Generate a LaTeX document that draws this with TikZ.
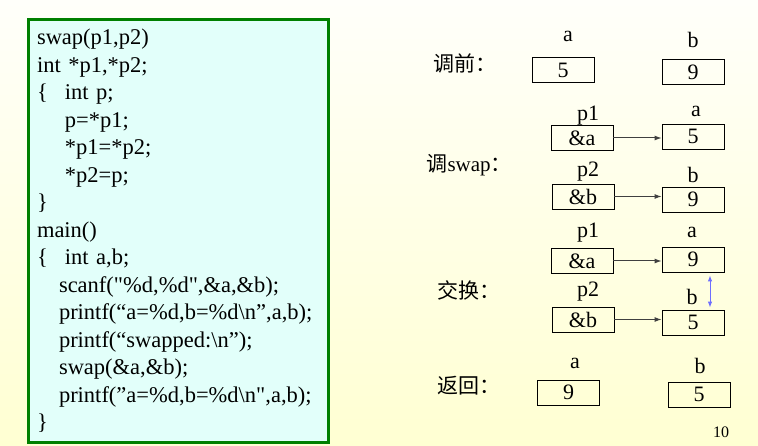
\documentclass[tikz,border=0pt]{standalone}
\usepackage{fontspec}
\setmainfont{Liberation Serif}[Ligatures=TeXOff]
\newfontfamily\cjk{Noto Sans CJK SC}
\usetikzlibrary{arrows.meta}
\definecolor{codegreen}{RGB}{0,128,0}
\definecolor{codefill}{RGB}{226,255,250}
\definecolor{bgtop}{RGB}{255,255,250}
\definecolor{bgbottom}{RGB}{255,255,210}
\definecolor{ptrgray}{RGB}{64,64,64}
\definecolor{swapblue}{RGB}{110,110,255}

\begin{document}
\begin{tikzpicture}[x=1pt, y=-1pt,
  codebox/.style={draw=codegreen, line width=3pt, fill=codefill, anchor=north west,
                  minimum width=300pt, minimum height=422pt, text width=282pt,
                  inner xsep=9pt, align=left, font=\fontsize{22.5}{27.5}\selectfont},
  cell/.style={draw, line width=0.8pt, minimum width=62pt, minimum height=25pt,
               inner sep=0pt, font=\fontsize{22}{24}\selectfont},
  var/.style={font=\fontsize{22}{24}\selectfont},
  stagelabel/.style={anchor=west, font=\fontsize{21}{24}\selectfont},
  ptr/.style={-{Latex[length=7pt,width=5pt]}, ptrgray, line width=1pt},
  swaparrow/.style={{Latex[length=6pt,width=4.5pt]}-{Latex[length=6pt,width=4.5pt]},
                    swapblue, line width=1pt}
]
  % Background
  \fill[top color=bgtop, bottom color=bgbottom] (0,0) rectangle (758,446);

  % Code
  \node[codebox] (code) at (26.5,18.5)
    {swap(p1,p2)\\
     int *p1,*p2;\\
     \makebox[28pt][l]{\{}int p;\\
     \hspace*{28pt}p=*p1;\\
     \hspace*{28pt}*p1=*p2;\\
     \hspace*{28pt}*p2=p;\\
     \}\\
     main()\\
     \makebox[28pt][l]{\{}int a,b;\\
     \hspace*{22pt}scanf("\%d,\%d",\&a,\&b);\\
     \hspace*{22pt}printf(“a=\%d,b=\%d\textbackslash n”,a,b);\\
     \hspace*{22pt}printf(“swapped:\textbackslash n”);\\
     \hspace*{22pt}swap(\&a,\&b);\\
     \hspace*{22pt}printf(”a=\%d,b=\%d\textbackslash n",a,b);\\
     \}};

  % Before the call
  \node[stagelabel] (before) at (430,63) {\cjk 调前：};
  \node[var] (a0name) at (568,36) {a};
  \node[var] (b0name) at (693,40) {b};
  \node[cell] (a0) at (563,70) {5};
  \node[cell] (b0) at (693,72) {9};

  % Calling swap
  \node[stagelabel] (call) at (423,165) {\cjk 调\rmfamily swap\cjk ：};
  \node[var] (p1name) at (588,116) {p1};
  \node[var] (a1name) at (696,111) {a};
  \node[cell] (p1a) at (582,138) {\&a};
  \node[cell] (a1) at (693,136.5) {5};
  \node[var] (p2name) at (588,172) {p2};
  \node[var] (b1name) at (693,175) {b};
  \node[cell] (p2b) at (583,196.5) {\&b};
  \node[cell] (b1) at (693,199.5) {9};

  % Swapped
  \node[stagelabel] (swapped) at (434,290) {\cjk 交换：};
  \node[var] (p1name2) at (588,233) {p1};
  \node[var] (a2name) at (692,232) {a};
  \node[cell] (p1a2) at (582,261) {\&a};
  \node[cell] (a2) at (693,259.5) {9};
  \node[var] (p2name2) at (588,292) {p2};
  \node[var] (b2name) at (692,297) {b};
  \node[cell] (p2b2) at (583,319.5) {\&b};
  \node[cell] (b2) at (693,322.5) {5};

  % Return
  \node[stagelabel] (back) at (434,386) {\cjk 返回：};
  \node[var] (a3name) at (575,363) {a};
  \node[var] (b3name) at (700,366) {b};
  \node[cell] (a3) at (568.5,392.5) {9};
  \node[cell] (b3) at (699,394.5) {5};

  % Page number
  \node[font=\fontsize{16}{18}\selectfont] (page) at (721,432) {10};

  % Arrows
  \draw[ptr] (p1a.east) -- (p1a.east -| a1.west);
  \draw[ptr] (p2b.east) -- (p2b.east -| b1.west);
  \draw[ptr] (p1a2.east) -- (p1a2.east -| a2.west);
  \draw[ptr] (p2b2.east) -- (p2b2.east -| b2.west);
  \draw[swaparrow, shorten <=3pt, shorten >=2pt] ([xshift=17pt]a2.south) -- ([xshift=17pt]b2.north);

\end{tikzpicture}
\end{document}
